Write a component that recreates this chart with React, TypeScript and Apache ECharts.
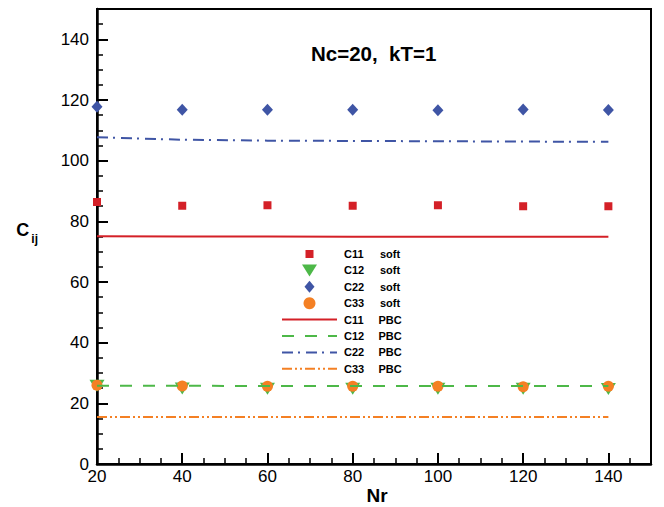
import React, { useEffect, useRef } from "react";
import * as echarts from "echarts";

const nr = [20, 40, 60, 80, 100, 120, 140];
const c11Soft = [86.4, 85.1, 85.3, 85.1, 85.3, 85.0, 85.0];
const c12Soft = [25.8, 24.9, 24.8, 24.8, 24.8, 24.8, 24.7];
const c22Soft = [117.8, 116.8, 116.8, 116.8, 116.6, 116.9, 116.7];
const c33Soft = [26.0, 25.7, 25.6, 25.6, 25.6, 25.5, 25.6];
const c11Pbc = [75.1, 75.0, 75.0, 74.9, 74.9, 74.9, 74.9];
const c12Pbc = [25.8, 25.8, 25.7, 25.7, 25.7, 25.7, 25.7];
const c22Pbc = [107.7, 106.9, 106.6, 106.5, 106.4, 106.3, 106.2];
const c33Pbc = [15.5, 15.5, 15.5, 15.5, 15.5, 15.5, 15.5];
const xTicks = [20, 40, 60, 80, 100, 120, 140];
const yTicks = [0, 20, 40, 60, 80, 100, 120, 140];
const softNames = ["C11 soft", "C12 soft", "C22 soft", "C33 soft"];
const pbcNames = ["C11 PBC", "C12 PBC", "C22 PBC", "C33 PBC"];

const RED = "#d42027";
const GREEN = "#4db848";
const BLUE = "#3f55a5";
const ORANGE = "#f48024";
const FONT = "Liberation Sans, Arial, sans-serif";
const TRI_DOWN = "path://M0,0 L20,0 L10,16 Z";
// square occupying 8/12 of its symbol box (corner points keep the box size)
const SQUARE = "path://M0,0 L0,0 Z M12,12 L12,12 Z M2,2 L10,2 L10,10 L2,10 Z";
const DIAMOND = "path://M5,0 L10,6 L5,12 L0,6 Z";

const pts = (ys: number[]) => nr.map((x, i) => [x, ys[i]]);

export default function App() {
  const ref = useRef<HTMLDivElement>(null);
  useEffect(() => {
    if (!ref.current) return;
    const chart = echarts.init(ref.current, null, { renderer: "svg" });
    const scatter = (name: string, ys: number[], symbol: string, size: any, color: string) => ({
      name,
      type: "scatter",
      data: pts(ys),
      symbol,
      symbolSize: size,
      itemStyle: { color, opacity: 1 },
      xAxisIndex: 0,
      yAxisIndex: 0,
    });
    const line = (name: string, ys: number[], color: string, type: any) => ({
      name,
      type: "line",
      data: pts(ys),
      symbol: "none",
      lineStyle: { color, width: 2, type },
      itemStyle: { color },
      xAxisIndex: 0,
      yAxisIndex: 0,
    });
    const majorX = {
      type: "value",
      min: 20,
      max: 150,
      interval: 20,
      position: "bottom",
      axisLine: { show: true, onZero: false, lineStyle: { color: "#000", width: 2.5 } },
      axisTick: { show: true, inside: true, length: 11, lineStyle: { color: "#000", width: 2 }, customValues: xTicks },
      axisLabel: {
        show: true,
        customValues: xTicks,
        color: "#000",
        fontFamily: FONT,
        fontSize: 17,
        margin: 4,
        formatter: (v: number) => (v % 20 === 0 && v <= 140 ? String(v) : ""),
      },
      splitLine: { show: false },
      name: "Nr",
      nameLocation: "middle",
      nameGap: 21,
      nameMoveOverlap: false,
      nameTextStyle: { color: "#000", fontFamily: FONT, fontSize: 19, fontWeight: "bold", lineHeight: 20, padding: [0, 0, 0, 6] },
    };
    const minorX = {
      type: "value",
      min: 20,
      max: 150,
      interval: 5,
      position: "bottom",
      axisLine: { show: false, onZero: false },
      axisTick: { show: true, inside: true, length: 6, lineStyle: { color: "#000", width: 1.5 } },
      axisLabel: { show: false },
      splitLine: { show: false },
    };
    const majorY = {
      type: "value",
      min: 0,
      max: 150,
      interval: 20,
      position: "left",
      axisLine: { show: true, onZero: false, lineStyle: { color: "#000", width: 2.5 } },
      axisTick: { show: true, inside: true, length: 11, lineStyle: { color: "#000", width: 2 }, customValues: yTicks },
      axisLabel: {
        show: true,
        customValues: yTicks,
        color: "#000",
        fontFamily: FONT,
        fontSize: 17,
        margin: 8,
        formatter: (v: number) => (v % 20 === 0 && v <= 140 ? String(v) : ""),
      },
      splitLine: { show: false },
      name: "{c|C}{s|ij}",
      nameLocation: "middle",
      nameRotate: 0,
      nameGap: 59,
      nameMoveOverlap: false,
      nameTextStyle: {
        fontFamily: FONT,
        color: "#000",
        padding: [0, 0, 18, 0],
        rich: {
          c: { fontFamily: FONT, fontSize: 18, fontWeight: "bold", color: "#000", verticalAlign: "bottom", lineHeight: 22 },
          s: { fontFamily: FONT, fontSize: 12, fontWeight: "bold", color: "#000", verticalAlign: "bottom", lineHeight: 22, padding: [0, 0, -6, 2] },
        },
      },
    };
    const minorY = {
      type: "value",
      min: 0,
      max: 150,
      interval: 5,
      position: "left",
      axisLine: { show: false, onZero: false },
      axisTick: { show: true, inside: true, length: 6, lineStyle: { color: "#000", width: 1.5 } },
      axisLabel: { show: false },
      splitLine: { show: false },
    };
    chart.setOption({
      animation: false,
      backgroundColor: "#fff",
      title: {
        text: "Nc=20,  kT=1",
        left: 306,
        top: 38,
        textStyle: { fontFamily: FONT, fontSize: 20.5, fontWeight: "bold", color: "#000" },
      },
      grid: {
        left: 97,
        right: 13,
        top: 9,
        bottom: 43,
        containLabel: false,
        outerBoundsMode: "none",
        show: true,
        borderColor: "#000",
        borderWidth: 2,
        backgroundColor: "transparent",
      },
      legend: {
        orient: "vertical",
        left: 281,
        top: 248,
        padding: 0,
        itemWidth: 55,
        itemHeight: 12,
        itemGap: 4.4,
        symbolKeepAspect: true,
        data: [
          ...softNames.map((n) => ({ name: n })),
          ...pbcNames.map((n) => ({ name: n, itemStyle: { opacity: 0 } })),
        ],
        formatter: (name: string) => {
          const p = name.split(" ");
          return `{a|${p[0]}}{b|${p[1]}}`;
        },
        textStyle: {
          fontFamily: FONT,
          fontSize: 11,
          fontWeight: "bold",
          color: "#000",
          lineHeight: 12,
          rich: {
            a: { fontFamily: FONT, fontSize: 11, fontWeight: "bold", color: "#000", width: 33, padding: [0, 0, 0, 2], lineHeight: 12 },
            b: { fontFamily: FONT, fontSize: 11, fontWeight: "bold", color: "#000", width: 26, align: "center", lineHeight: 12 },
          },
        },
      },
      xAxis: [majorX, minorX],
      yAxis: [majorY, minorY],
      series: [
        scatter(softNames[0], c11Soft, SQUARE, 12, RED),
        scatter(softNames[1], c12Soft, TRI_DOWN, [15, 12], GREEN),
        scatter(softNames[2], c22Soft, DIAMOND, [11, 12], BLUE),
        scatter(softNames[3], c33Soft, "circle", 11, ORANGE),
        line(pbcNames[0], c11Pbc, RED, "solid"),
        line(pbcNames[1], c12Pbc, GREEN, [12, 11]),
        line(pbcNames[2], c22Pbc, BLUE, [11, 5, 2, 6]),
        line(pbcNames[3], c33Pbc, ORANGE, [10, 3, 2, 3, 2, 3]),
      ],
    });
    return () => chart.dispose();
  }, []);
  return <div ref={ref} style={{ position: "fixed", left: 0, top: 0, width: 664, height: 507 }} />;
}
